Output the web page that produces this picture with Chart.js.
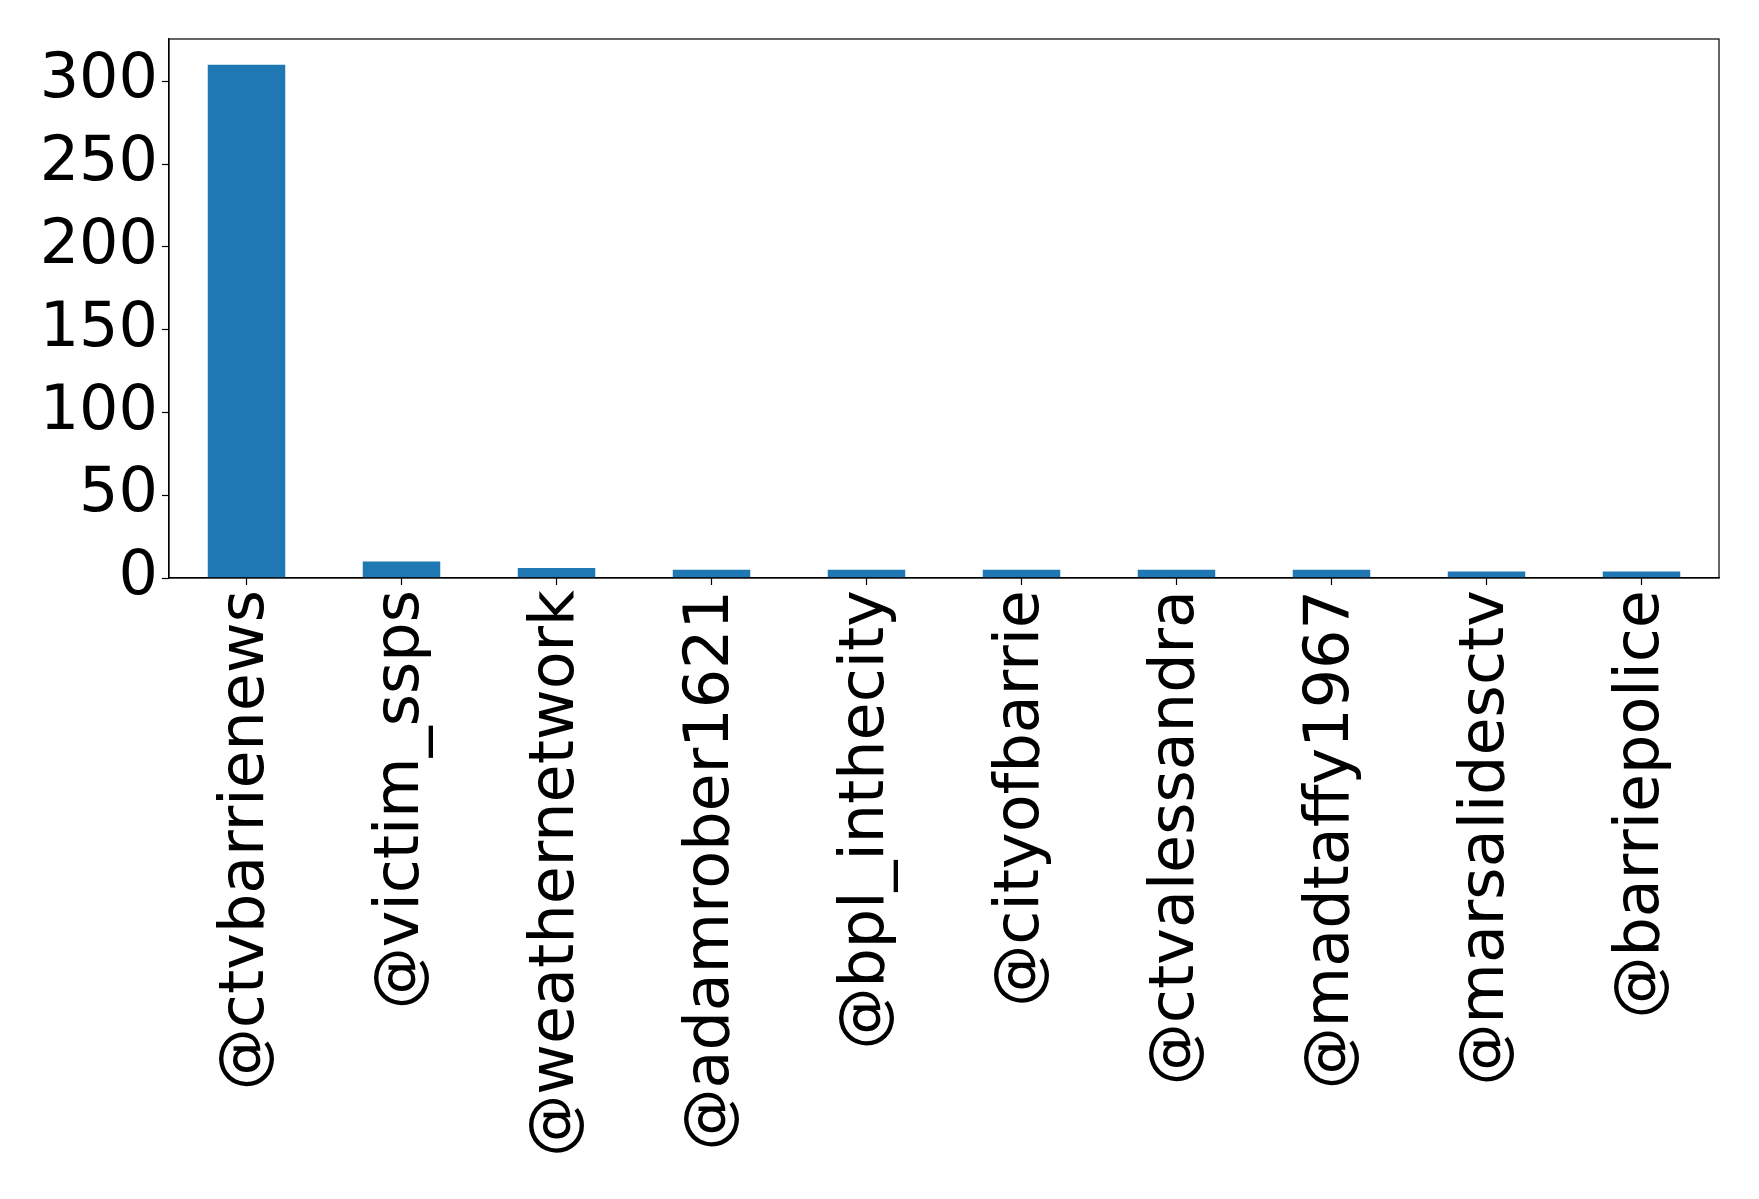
<!DOCTYPE html>
<html>
<head>
<meta charset="utf-8">
<script src="https://cdn.jsdelivr.net/npm/chart.js@4/dist/chart.umd.min.js"></script>
<style>
html,body{margin:0;padding:0;background:#fff;}
#wrap{width:1759px;height:1199px;position:relative;}
</style>
</head>
<body>
<div id="wrap"><canvas id="c" width="1759" height="1199"></canvas></div>
<script>
const categories = ["@ctvbarrienews","@victim_ssps","@weathernetwork","@adamrober1621","@bpl_inthecity","@cityofbarrie","@ctvalessandra","@madtaffy1967","@marsalidesctv","@barriepolice"];
const counts = [310, 10, 6, 5, 5, 5, 5, 5, 4, 4];
const yTicks = [0, 50, 100, 150, 200, 250, 300];
const yMax = Math.max(...counts) * 1.05;

const frame = {
  id: 'frame',
  afterDraw(chart) {
    const a = chart.chartArea, ctx = chart.ctx;
    ctx.save();
    ctx.strokeStyle = '#000';
    ctx.lineWidth = 1.2;
    ctx.strokeRect(a.left, a.top, a.right - a.left, a.bottom - a.top);
    ctx.restore();
  }
};

new Chart(document.getElementById('c'), {
  type: 'bar',
  data: {
    labels: categories,
    datasets: [{
      data: counts,
      backgroundColor: '#1f77b4',
      borderWidth: 0,
      categoryPercentage: 1.0,
      barPercentage: 0.5
    }]
  },
  options: {
    responsive: false,
    animation: false,
    layout: { padding: { top: 39, right: 40, left: 0, bottom: 0 } },
    plugins: { legend: { display: false }, tooltip: { enabled: false } },
    scales: {
      x: {
        offset: true,
        grid: { offset: false, drawOnChartArea: false, drawTicks: true, tickLength: 7, color: '#000', tickWidth: 1.2 },
        border: { display: true, color: '#000', width: 1.2 },
        ticks: {
          color: '#000',
          font: { family: 'DejaVu Sans', size: 62, lineHeight: 1.0 },
          maxRotation: 90, minRotation: 90,
          padding: 5,
          autoSkip: false
        },
        afterFit(scale) { scale.height = 621; }
      },
      y: {
        min: 0,
        max: yMax,
        grid: { drawOnChartArea: false, drawTicks: true, tickLength: 7, color: '#000', tickWidth: 1.2 },
        border: { display: true, color: '#000', width: 1.2 },
        ticks: {
          color: '#000',
          font: { family: 'DejaVu Sans', size: 62, lineHeight: 1.0 },
          padding: 4
        },
        afterBuildTicks(scale) {
          scale.ticks = yTicks.map(v => ({ value: v }));
        },
        afterFit(scale) { scale.width = 169; scale.paddingTop = 0; }
      }
    }
  },
  plugins: [frame]
});
</script>
</body>
</html>
